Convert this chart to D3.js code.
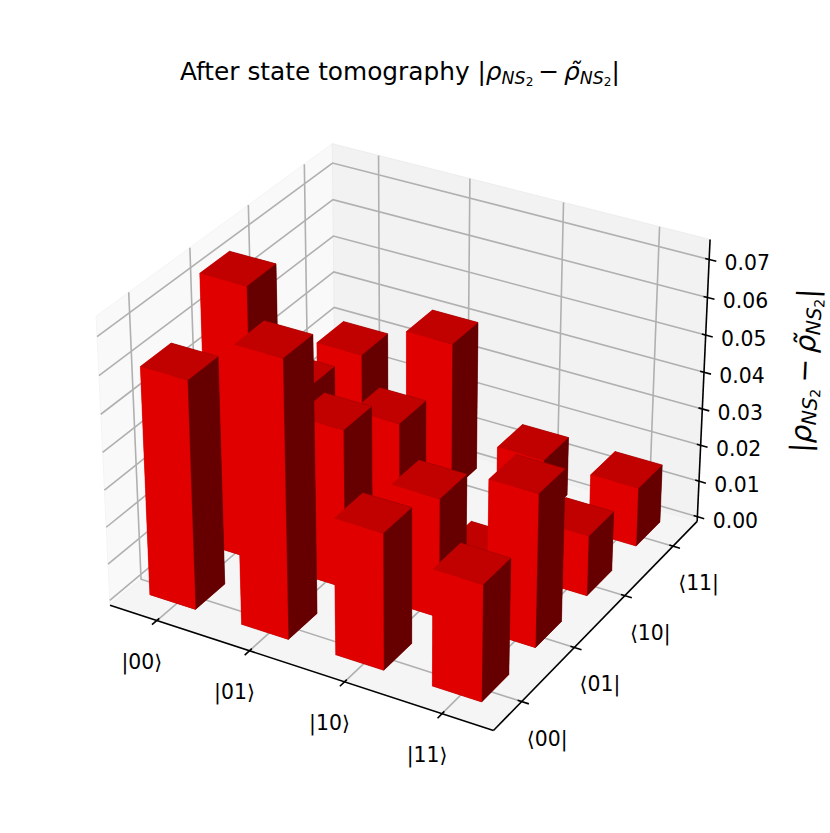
<!DOCTYPE html>
<html><head><meta charset="utf-8">
<script src="https://cdn.jsdelivr.net/npm/d3@7"></script>
<style>html,body{margin:0;padding:0;background:#fff}svg{display:block}text{font-family:"DejaVu Sans";fill:#000}</style>
</head><body><svg id="c" width="830" height="833"></svg>
<script>
const xLabels = ["|00⟩","|01⟩","|10⟩","|11⟩"];
const yLabels = ["⟨00|","⟨01|","⟨10|","⟨11|"];
const zTicks = [0,0.01,0.02,0.03,0.04,0.05,0.06,0.07];
const row00 = [0.061,0.0736,0.0364,0.031];
const row01 = [0.0732,0.0427,0.032,0.041];
const row10 = [0.034,0.0317,0.002,0.0163];
const row11 = [0.031,0.041,0.0162,0.016];
const rows = [row00,row01,row10,row11];
const barWidth = 0.5;

const xU = d3.scaleLinear([-0.516,3.516],[0,1]);
const yU = d3.scaleLinear([-0.516,3.516],[0,1]);
const zU = d3.scaleLinear([-0.00134,0.0752],[0,1]);
const BX=1.19048, BZ=0.89286, DIST=10;
const az=-60*Math.PI/180, el=30*Math.PI/180;
const w=[Math.cos(el)*Math.cos(az),Math.cos(el)*Math.sin(az),Math.sin(el)];
const u=[-Math.sin(az),Math.cos(az),0];
const v=[w[1]*u[2]-w[2]*u[1],w[2]*u[0]-w[0]*u[2],w[0]*u[1]-w[1]*u[0]];
const sx=d3.scaleLinear([-0.1,0.1],[409-369,409+369]);
const sy=d3.scaleLinear([-0.1,0.1],[423+369,423-369]);
function cam(a,b,c){const d=[(a-.5)*BX,(b-.5)*BX,(c-.5)*BZ];
  const dot=p=>p[0]*d[0]+p[1]*d[1]+p[2]*d[2];
  const D=DIST-dot(w);return {x:dot(u)/D,y:dot(v)/D,depth:D};}
function P(a,b,c){const q=cam(a,b,c);return [sx(q.x),sy(q.y)];}
const poly=pts=>d3.line()(pts)+"Z";
const svg=d3.select("#c");

// panes
const panes=[
 {pts:[[0,0,0],[0,1,0],[0,1,1],[0,0,1]],c:"#f9f9f9",e:"#f4f4f4"},
 {pts:[[0,1,0],[1,1,0],[1,1,1],[0,1,1]],c:"#f2f2f2",e:"#ededed"},
 {pts:[[0,0,0],[1,0,0],[1,1,0],[0,1,0]],c:"#f5f5f5",e:"#f0f0f0"}];
svg.append("g").selectAll("path").data(panes).join("path")
 .attr("d",d=>poly(d.pts.map(p=>P(...p)))).attr("fill",d=>d.c).attr("stroke",d=>d.e).attr("stroke-width",1);

// grid
const gridSeg=[];
xLabels.forEach((_,i)=>{const t=xU(i);gridSeg.push([[t,0,0],[t,1,0],[t,1,1]]);});
yLabels.forEach((_,i)=>{const t=yU(i);gridSeg.push([[1,t,0],[0,t,0],[0,t,1]]);});
zTicks.forEach(z=>{const t=zU(z);gridSeg.push([[0,0,t],[0,1,t],[1,1,t]]);});
svg.append("g").selectAll("path").data(gridSeg).join("path")
 .attr("d",d=>d3.line()(d.map(p=>P(...p)))).attr("fill","none").attr("stroke","#b0b0b0").attr("stroke-width",1.6);

// axes lines + ticks
const axisSeg=[[[0,0,0],[1,0,0]],[[1,0,0],[1,1,0]],[[1,1,0],[1,1,1]]];
xLabels.forEach((_,i)=>axisSeg.push([[xU(i),0.01,0],[xU(i),-0.02,0]]));
yLabels.forEach((_,i)=>axisSeg.push([[0.99,yU(i),0],[1.018,yU(i),0]]));
zTicks.forEach(z=>axisSeg.push([[0.99,1,zU(z)],[1.018,1,zU(z)]]));
svg.append("g").selectAll("path").data(axisSeg).join("path")
 .attr("d",d=>d3.line()(d.map(p=>P(...p)))).attr("fill","none").attr("stroke","#000").attr("stroke-width",1.6);

// bars: face shades follow the light direction used by the reference
const faces=[];
rows.forEach((row,j)=>row.forEach((val,i)=>{
  const x0=xU(i-barWidth/2),x1=xU(i+barWidth/2),y0=yU(j-barWidth/2),y1=yU(j+barWidth/2),z0=zU(0),z1=zU(val);
  const f=[
   {c:"#850000",p:[[x0,y0,z0],[x1,y0,z0],[x1,y1,z0],[x0,y1,z0]]},
   {c:"#c10000",p:[[x0,y0,z1],[x1,y0,z1],[x1,y1,z1],[x0,y1,z1]]},
   {c:"#e10000",p:[[x0,y0,z0],[x1,y0,z0],[x1,y0,z1],[x0,y0,z1]]},
   {c:"#660000",p:[[x0,y1,z0],[x1,y1,z0],[x1,y1,z1],[x0,y1,z1]]},
   {c:"#e10000",p:[[x0,y0,z0],[x0,y1,z0],[x0,y1,z1],[x0,y0,z1]]},
   {c:"#660000",p:[[x1,y0,z0],[x1,y1,z0],[x1,y1,z1],[x1,y0,z1]]}];
  f.forEach(q=>{q.depth=d3.mean(q.p,a=>cam(...a).depth);faces.push(q);});
}));
faces.sort((a,b)=>b.depth-a.depth);
svg.append("g").selectAll("path").data(faces).join("path")
 .attr("d",d=>poly(d.p.map(p=>P(...p)))).attr("fill",d=>d.c).attr("stroke",d=>d.c).attr("stroke-width",0.3);

// tick labels
const TF=20.4;
const lab=(data,fn,txt)=>svg.append("g").selectAll("text").data(data).join("text")
 .attr("text-anchor","middle").attr("dominant-baseline","central").attr("font-size",TF)
 .attr("x",d=>fn(d)[0]).attr("y",d=>fn(d)[1]).text(txt);
lab(xLabels.map((s,i)=>({s,i})),d=>{const p=P(xU(d.i),0,0);return [p[0]-15,p[1]+41];},d=>d.s);
lab(yLabels.map((s,i)=>({s,i})),d=>{const p=P(1,yU(d.i),0);return [p[0]+25.5,p[1]+37];},d=>d.s);
lab(zTicks,d=>{const p=P(1,1,zU(d));return [p[0]+38,p[1]+4];},d=>d3.format(".2f")(d));

// math text
function rhoTerm(t,fs,tilde){
  t.append("tspan").attr("font-style","italic").attr("font-size",fs).text(tilde?"ρ\u0303":"ρ");
  t.append("tspan").attr("font-style","italic").attr("font-size",fs*0.7).attr("dy",fs*0.15).text("NS");
  t.append("tspan").attr("font-size",fs*0.49).attr("dy",fs*0.1).text("2");
}
function mathExpr(t,fs){
  t.append("tspan").attr("font-size",fs).text("|");
  rhoTerm(t,fs,false);
  t.append("tspan").attr("font-size",fs).attr("dy",-fs*0.25).text("\u2009−\u2009");
  rhoTerm(t,fs,true);
  t.append("tspan").attr("font-size",fs).attr("dy",-fs*0.25).text("|");
}
const TFS=24.8;
const title=svg.append("text").attr("x",180).attr("y",80).attr("font-size",TFS);
title.append("tspan").text("After state tomography ");
mathExpr(title,TFS);

const ZFS=28.6;
const zl=svg.append("text").attr("text-anchor","middle").attr("font-size",ZFS)
 .attr("transform","translate(814,371) rotate(-87.3)");
mathExpr(zl,ZFS);
</script></body></html>
